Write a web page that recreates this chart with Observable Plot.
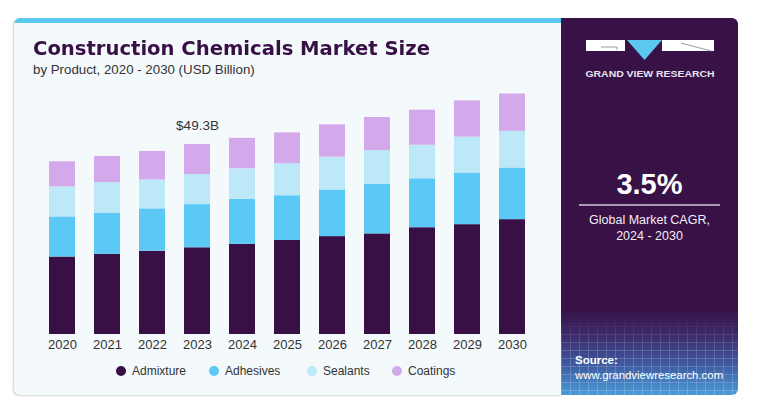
<!DOCTYPE html>
<html>
<head>
<meta charset="utf-8">
<script src="https://cdn.jsdelivr.net/npm/d3@7"></script>
<script src="https://cdn.jsdelivr.net/npm/@observablehq/plot@0.6"></script>
<style>
  html, body { margin: 0; padding: 0; background: #ffffff; width: 763px; height: 397px; overflow: hidden; font-family: "Liberation Sans", Arial, sans-serif; }
  #card { position: absolute; left: 14px; top: 18px; width: 548px; height: 377px; background: #f4f9fc; border-radius: 6px 0 0 6px; box-shadow: -1px 1px 2px rgba(0,0,0,0.18); overflow: hidden; }
  #card .topbar { position: absolute; left: 0; top: 0; width: 100%; height: 5px; background: #5bc8f0; }
  #title { position: absolute; left: 33px; top: 37px; font-family: "DejaVu Sans", sans-serif; font-weight: bold; font-size: 19.5px; color: #381046; white-space: nowrap; transform-origin: 0 0; }
  #subtitle { position: absolute; left: 33px; top: 62px; font-size: 13.3px; color: #333; white-space: nowrap; }
  #chart { position: absolute; left: 0; top: 80px; }
  #legend { position: absolute; left: 0; top: 364px; height: 18px; font-size: 12px; color: #333; }
  #legend .item { position: absolute; top: 0; display: flex; align-items: center; white-space: nowrap; }
  #legend .dot { width: 10px; height: 10px; border-radius: 50%; margin-right: 6px; }
  #panel { position: absolute; left: 561px; top: 18px; width: 177px; height: 377px; border-radius: 0 6px 6px 0; overflow: hidden;
    background: linear-gradient(to bottom, #381146 0%, #381146 77%, #3d2a6a 84%, #3e5aa0 92%, #4a9ad8 100%); }
  #grid { position: absolute; left: 0; top: 300px; width: 177px; height: 77px; opacity: 0.3;
    background-image: repeating-linear-gradient(to right, rgba(255,255,255,0.6) 0 1px, transparent 1px 9px),
                      repeating-linear-gradient(to bottom, rgba(255,255,255,0.6) 0 1px, transparent 1px 8px);
    -webkit-mask-image: linear-gradient(to bottom, transparent 0%, black 40%); mask-image: linear-gradient(to bottom, transparent 0%, black 40%); }
  .ptext { position: absolute; color: #fff; white-space: nowrap; }
</style>
</head>
<body>
<div id="card"><div class="topbar"></div></div>
<div id="title">Construction Chemicals Market Size</div>
<div id="subtitle">by Product, 2020 - 2030 (USD Billion)</div>
<div id="chart"></div>
<div id="legend"></div>
<div id="panel">
  <div id="grid"></div>
  <svg width="177" height="80" style="position:absolute;left:0;top:0">
    <rect x="25" y="22" width="39" height="11" fill="#ffffff"/>
    <path d="M40 29 H56 V32" stroke="#9a9aa8" stroke-width="1" fill="none"/>
    <path d="M66 22 H101 L83.5 42 Z" fill="#5bc8f0"/>
    <rect x="101" y="22" width="52" height="11" fill="#ffffff"/>
    <path d="M120 25 L150 33" stroke="#9a9aa8" stroke-width="1" fill="none"/>
    <text x="24.5" y="59" font-family="Liberation Sans, Arial, sans-serif" font-weight="bold" font-size="9.5" fill="#e8e4ee" textLength="129" lengthAdjust="spacingAndGlyphs">GRAND VIEW RESEARCH</text>
  </svg>
  <div class="ptext" style="left:0;width:177px;text-align:center;top:150px;font-size:29px;font-weight:bold;">3.5%</div>
  <div style="position:absolute;left:18px;top:186px;width:141px;height:2px;background:#a99bb2;"></div>
  <div class="ptext" style="left:0;width:177px;text-align:center;top:194px;font-size:12.5px;line-height:16px;color:#f2eef5;">Global Market CAGR,<br>2024 - 2030</div>
  <div class="ptext" style="left:14px;top:336px;font-size:11.5px;font-weight:bold;">Source:</div>
  <div class="ptext" style="left:14px;top:351px;font-size:11.4px;">www.grandviewresearch.com</div>
</div>
<script>
const years = ["2020","2021","2022","2023","2024","2025","2026","2027","2028","2029","2030"];
const segments = ["Admixture","Adhesives","Sealants","Coatings"];
const colors = ["#381046","#5bc8f5","#bde8f8","#d4a9ec"];
const admixture = [20.1, 20.8, 21.6, 22.5, 23.4, 24.4, 25.4, 26.1, 27.7, 28.5, 29.8];
const adhesives = [10.4, 10.7, 11.0, 11.2, 11.7, 11.6, 12.1, 12.9, 12.7, 13.4, 13.4];
const sealants  = [7.8, 7.9, 7.5, 7.8, 7.9, 8.3, 8.5, 8.7, 8.7, 9.3, 9.5];
const coatings  = [6.5, 6.8, 7.4, 7.8, 7.9, 8.0, 8.4, 8.6, 9.1, 9.4, 9.7];
const annotation = {year: "2023", label: "$49.3B"};

// stretch the heavy title to the reference's width
const title = document.getElementById("title");
const tw = title.getBoundingClientRect().width;
title.style.transform = `scaleX(${397 / tw})`;

const series = [admixture, adhesives, sealants, coatings];
const rows = [];
years.forEach((y, i) => segments.forEach((s, j) => rows.push({year: y, segment: s, value: series[j][i]})));
const totals = years.map((y, i) => ({year: y, total: series.reduce((a, arr) => a + arr[i], 0)}));
const annRow = [{year: annotation.year, total: totals.find(d => d.year === annotation.year).total, label: annotation.label}];

const plot = Plot.plot({
  width: 560,
  height: 280,
  marginTop: 0,
  marginBottom: 26,
  marginLeft: 0,
  marginRight: 0,
  style: {background: "transparent", fontFamily: "Liberation Sans, Arial, sans-serif", fontSize: "13px", color: "#333"},
  x: {domain: years, range: [27, 546], padding: 0.43, label: null, tickSize: 0, tickPadding: 5},
  y: {domain: [0, 65.9], axis: null},
  color: {domain: segments, range: colors},
  marks: [
    Plot.barY(rows, Plot.stackY({x: "year", y: "value", fill: "segment", order: null})),
    Plot.text(annRow, {x: "year", y: "total", text: "label", dy: -18.5, fontSize: 13.5, fill: "#333"})
  ]
});
document.getElementById("chart").appendChild(plot);

const legendX = [116, 209, 307, 392];
const lg = document.getElementById("legend");
segments.forEach((s, i) => {
  const it = document.createElement("div");
  it.className = "item";
  it.style.left = legendX[i] + "px";
  it.innerHTML = `<span class="dot" style="background:${colors[i]}"></span><span>${s}</span>`;
  lg.appendChild(it);
});
</script>
</body>
</html>
